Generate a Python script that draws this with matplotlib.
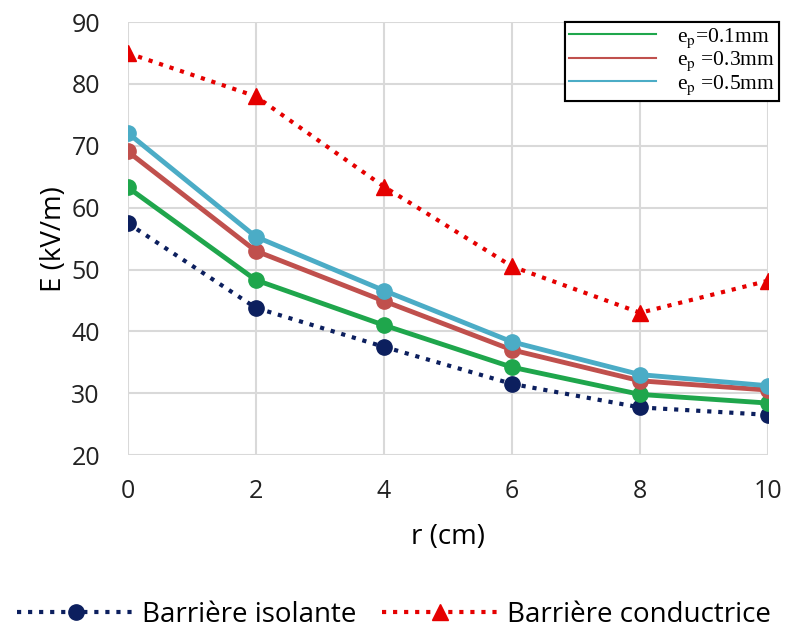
import matplotlib.pyplot as plt
from matplotlib.lines import Line2D

plt.rcParams['font.family'] = ['Open Sans', 'DejaVu Sans']
plt.rcParams['mathtext.fontset'] = 'stix'

# Données
r = [0, 2, 4, 6, 8, 10]
E_isolante = [57.5, 43.8, 37.5, 31.5, 27.7, 26.5]
E_conductrice = [85.0, 78.0, 63.4, 50.5, 43.0, 48.2]
E_01 = [63.3, 48.3, 41.0, 34.2, 29.8, 28.4]
E_03 = [69.1, 53.0, 44.9, 37.0, 32.0, 30.5]
E_05 = [72.1, 55.3, 46.6, 38.3, 33.0, 31.2]

fig = plt.figure(figsize=(7.88, 6.32), dpi=100)
ax = fig.add_axes([0.162, 0.28, 0.813, 0.685])

c_nav = "#0c1f5e"
c_red = "#e50000"
c_g = "#1fa64c"
c_r = "#c0504d"
c_b = "#4bacc6"

ax.plot(r, E_isolante, ":", color=c_nav, lw=3, marker="o", ms=11)
ax.plot(r, E_conductrice, ":", color=c_red, lw=3, marker="^", ms=11)
ax.plot(r, E_01, "-", color=c_g, lw=3.5, marker="o", ms=11)
ax.plot(r, E_03, "-", color=c_r, lw=3.5, marker="o", ms=11)
ax.plot(r, E_05, "-", color=c_b, lw=3.5, marker="o", ms=11)

ax.set_xlim(0, 10)
ax.set_ylim(20, 90)
ax.set_xticks(r)
ax.set_yticks(range(20, 91, 10))
ax.grid(True, color="#d9d9d9", lw=1.5)
ax.set_axisbelow(True)
for s in ax.spines.values():
    s.set_visible(False)
ax.tick_params(length=0, labelsize=18, labelcolor="#222222")
ax.tick_params(axis="x", pad=17)
ax.tick_params(axis="y", pad=20)
ax.set_xlabel("r (cm)", fontsize=20, labelpad=14)
ax.set_ylabel("E (kV/m)", fontsize=20, labelpad=2)

# légende épaisseurs (haut droite)
h1 = [Line2D([], [], color=c, lw=1.5) for c in (c_g, c_r, c_b)]
leg1 = ax.legend(h1, ["e$_\\mathrm{p}$=0.1mm", "e$_\\mathrm{p}$ =0.3mm", "e$_\\mathrm{p}$ =0.5mm"],
                 loc="upper right", bbox_to_anchor=(1.034, 1.025),
                 prop={"family": "Liberation Serif", "size": 15.5},
                 fancybox=False, edgecolor="black", framealpha=1,
                 handlelength=4.0, handletextpad=1.0, labelspacing=0.0,
                 borderpad=0.2)
leg1.get_frame().set_linewidth(1.5)
ax.add_artist(leg1)

# légende barrières (bas)
h2 = [Line2D([], [], ls=":", color=c_nav, lw=3, marker="o", ms=11),
      Line2D([], [], ls=":", color=c_red, lw=3, marker="^", ms=11)]
fig.legend(h2, ["Barrière isolante", "Barrière conductrice"], loc="center",
           bbox_to_anchor=(0.5, 0.027), ncol=2, frameon=False, fontsize=20,
           handlelength=4.2, columnspacing=0.9, handletextpad=0.3)

fig.savefig("out.png", dpi=100)
